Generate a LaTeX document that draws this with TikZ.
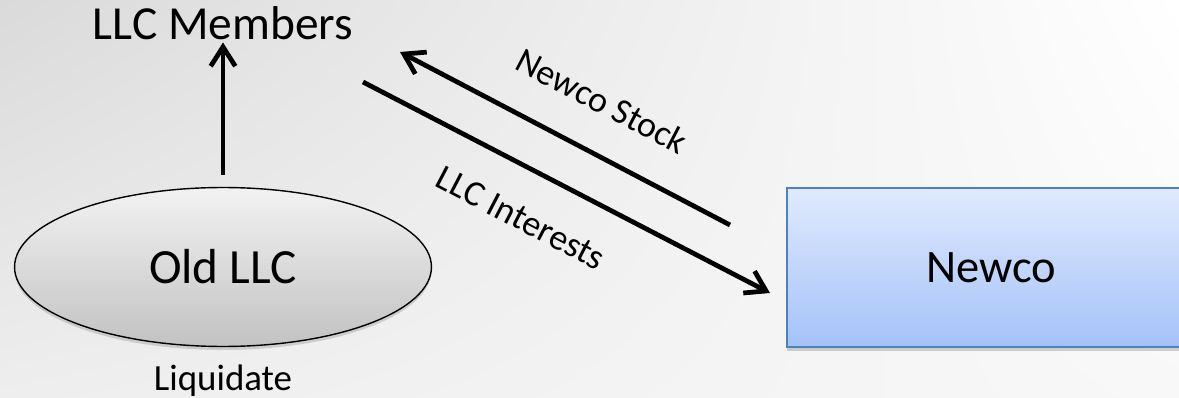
\documentclass[tikz,border=0pt]{standalone}
\usepackage{fontspec}
\setmainfont{Carlito}
\usepackage{tikz}
\usetikzlibrary{arrows.meta,positioning,shapes.geometric,shadows,shadings}
\definecolor{bgdark}{HTML}{DADADA}
\definecolor{bgmid}{HTML}{EEEEEE}
\definecolor{bgpale}{HTML}{F8F8F8}
\definecolor{boxline}{HTML}{4F81BD}
\definecolor{boxtop}{HTML}{E0EAFD}
\definecolor{boxbot}{HTML}{A4C2F8}
\definecolor{ovaltop}{HTML}{F2F2F2}
\definecolor{ovalbot}{HTML}{C2C2C2}
\tikzset{
  title/.style={inner sep=1pt,font=\fontsize{27}{31}\selectfont},
  small/.style={inner sep=1pt,font=\fontsize{21}{24}\selectfont},
  flow/.style={inner sep=1pt,font=\fontsize{20.5}{24}\selectfont,rotate=-27.5},
  oval/.style={ellipse,draw=black,line width=0.8pt,top color=ovaltop,bottom color=ovalbot,
    minimum width=8.34cm,minimum height=3.18cm,inner sep=0pt,font=\fontsize{28}{32}\selectfont,
    drop shadow={shadow xshift=0pt,shadow yshift=-2pt,opacity=0.3}},
  entity/.style={rectangle,draw=boxline,line width=1.2pt,top color=boxtop,bottom color=boxbot,
    minimum width=8.16cm,minimum height=3.18cm,font=\fontsize{26.5}{30}\selectfont,
    drop shadow={shadow xshift=0pt,shadow yshift=-2.5pt,opacity=0.35}},
  arr/.style={-{Straight Barb[length=11pt,width=14pt]},line width=2.7pt}
}
\begin{document}
\begin{tikzpicture}[x=0.02cm,y=-0.02cm]
  \useasboundingbox (0,0) rectangle (1179,398);
  \shade[upper left=bgdark,lower left=bgmid,upper right=white,lower right=bgpale]
    (0,0) rectangle (1179,398);
  \node[title,anchor=base] (members) at (223,40) {LLC Members};
  \node[oval] (old) at (223,267) {Old LLC};
  \node[small,below=9pt of old] (liq) {Liquidate};
  \node[entity] (newco) at (991,267.5) {Newco};
  \coordinate (stockfrom) at (730,225);
  \coordinate (stockto) at (400,52);
  \coordinate (intfrom) at (363,82);
  \coordinate (intto) at (770,293);
  \draw[arr] ([yshift=7pt]old.north) -- (members.south);
  \draw[arr] (stockfrom) -- (stockto);
  \draw[arr] (intfrom) -- (intto);
  \node[flow] (stock) at (602,101) {Newco Stock};
  \node[flow] (interests) at (521,218) {LLC Interests};
\end{tikzpicture}
\end{document}
